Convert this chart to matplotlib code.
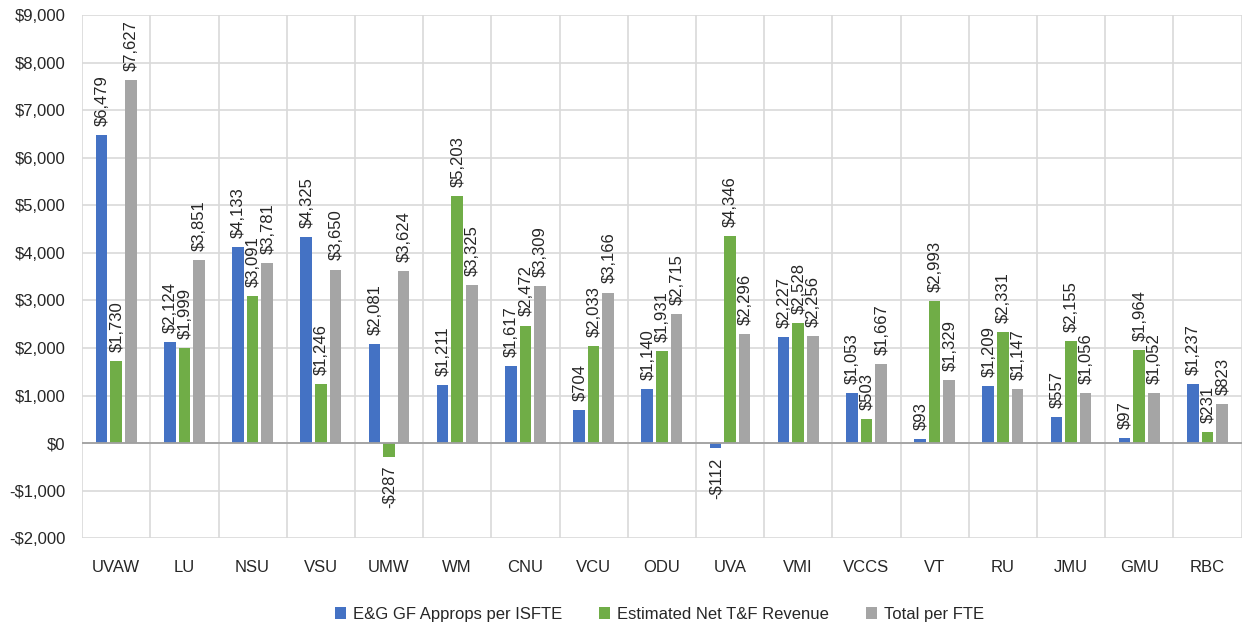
import matplotlib
matplotlib.use("Agg")
import matplotlib.pyplot as plt
import numpy as np
from matplotlib.ticker import FuncFormatter, MultipleLocator

plt.rcParams['font.family'] = ['Liberation Sans', 'DejaVu Sans']

categories = ["UVAW", "LU", "NSU", "VSU", "UMW", "WM", "CNU", "VCU", "ODU", "UVA",
              "VMI", "VCCS", "VT", "RU", "JMU", "GMU", "RBC"]
eg_gf = [6479, 2124, 4133, 4325, 2081, 1211, 1617, 704, 1140, -112,
         2227, 1053, 93, 1209, 557, 97, 1237]
net_tf = [1730, 1999, 3091, 1246, -287, 5203, 2472, 2033, 1931, 4346,
          2528, 503, 2993, 2331, 2155, 1964, 231]
total_fte = [7627, 3851, 3781, 3650, 3624, 3325, 3309, 3166, 2715, 2296,
             2256, 1667, 1329, 1147, 1056, 1052, 823]

series = [("E&G GF Approps per ISFTE", eg_gf, "#4472C4"),
          ("Estimated Net T&F Revenue", net_tf, "#70AD47"),
          ("Total per FTE", total_fte, "#A5A5A5")]

def money(v, pos=None):
    v = int(round(v))
    return ("-$" if v < 0 else "$") + f"{abs(v):,}"

fig = plt.figure(figsize=(12.44, 6.28), dpi=100)
ax = fig.add_axes([0.066, 0.143, 0.932, 0.833])

x = np.arange(len(categories))
width = 0.17
offsets = [-0.215, 0.0, 0.215]

for (name, vals, col), off in zip(series, offsets):
    bars = ax.bar(x + off, vals, width, color=col, label=name, zorder=3)
    for b, v in zip(bars, vals):
        cx = b.get_x() + b.get_width() / 2
        if v >= 0:
            ax.annotate(money(v), (cx, v), xytext=(0.5, 6.5), textcoords="offset points",
                        rotation=90, ha="center", va="bottom", fontsize=12,
                        color="#262626")
        else:
            ax.annotate(money(v), (cx, v), xytext=(0.5, -6.5), textcoords="offset points",
                        rotation=90, ha="center", va="top", fontsize=12,
                        color="#262626")

ax.set_xlim(-0.5, len(categories) - 0.5)
ax.set_ylim(-2000, 9000)
ax.yaxis.set_major_locator(MultipleLocator(1000))
ax.yaxis.set_major_formatter(FuncFormatter(money))

# grid: horizontal at each 1000, vertical between categories
ax.set_xticks(x)
ax.set_xticklabels(categories)
ax.set_xticks(np.arange(-0.5, len(categories) + 0.5, 1), minor=True)
ax.grid(axis="y", which="major", color="#D9D9D9", linewidth=1.2, zorder=0)
ax.grid(axis="x", which="minor", color="#D9D9D9", linewidth=1.2, zorder=0)
ax.axhline(0, color="#A0A0A0", linewidth=1.3, zorder=4)

for s in ax.spines.values():
    s.set_visible(False)
ax.tick_params(axis="both", which="both", length=0)
ax.tick_params(axis="y", labelsize=12, colors="#262626", pad=12)
ax.tick_params(axis="x", labelsize=12, colors="#262626", pad=16)

handles, labels = ax.get_legend_handles_labels()
fig.legend(handles, labels, loc="center", bbox_to_anchor=(0.53, 0.022), ncol=3,
           frameon=False, fontsize=12, handlelength=0.7, handleheight=0.7,
           handletextpad=0.4, columnspacing=2.2, labelcolor="#262626")

fig.savefig("out.png", dpi=100)
